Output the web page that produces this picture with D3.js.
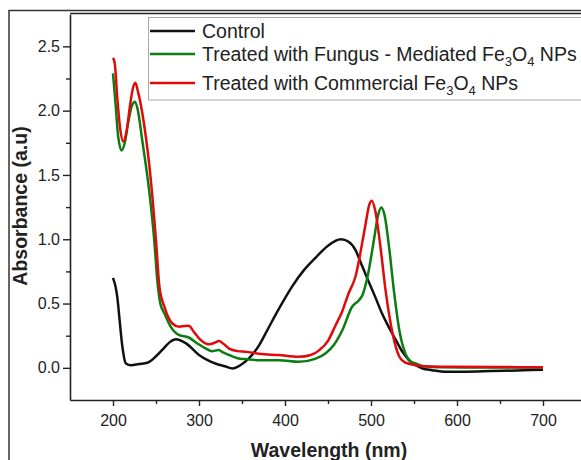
<!DOCTYPE html>
<html><head><meta charset="utf-8">
<script src="https://cdn.jsdelivr.net/npm/d3@7"></script>
<style>
html,body{margin:0;padding:0;background:#fff;overflow:hidden;}
text{font-family:"Liberation Sans",Arial,sans-serif;fill:#222;}
</style></head>
<body>
<svg id="chart" width="581" height="460"></svg>
<script>
// ---- data ----
const controlWl  = [200,203,205,208,211,215,221,230,240,250,260,266,273,285,300,310,319,330,339,348,358,370,380,393,408,422,436,450,465,474,482,488,496,505,513,522,529,537,544,552,560,571,587,610,640,670,700];
const controlAbs = [0.70,0.63,0.55,0.35,0.16,0.034,0.02,0.03,0.04,0.09,0.16,0.20,0.223,0.19,0.10,0.06,0.034,0.012,-0.005,0.02,0.073,0.177,0.30,0.46,0.63,0.76,0.86,0.95,1.0,0.98,0.915,0.82,0.69,0.55,0.42,0.30,0.215,0.12,0.06,0.02,-0.005,-0.018,-0.03,-0.03,-0.025,-0.02,-0.015];

const fungusWl  = [200,203,206,210,214,218,222,225.6,229,234,242,248,251.5,255,260,267,277,288,298,308,315,323,328,335,345,354,370,393,416,435,447,457,466.5,478,486,490,496,504,508,512,516,521,527,533,540,546,552,560,580,620,700];
const fungusAbs = [2.29,2.05,1.80,1.69,1.76,1.92,2.04,2.07,2.0,1.77,1.38,0.99,0.68,0.50,0.42,0.32,0.254,0.236,0.19,0.15,0.13,0.138,0.12,0.10,0.075,0.068,0.06,0.06,0.047,0.07,0.112,0.18,0.29,0.475,0.526,0.565,0.71,1.02,1.18,1.247,1.18,0.94,0.58,0.29,0.11,0.05,0.034,0.015,0.005,0.003,0.003];

const commercialWl  = [200,202,205,208,212,216,220,223,226,229,236,244,250,254,260,269,277,283,288,294,300,312,318,323,328,335,345,354,370,393,416,430,440,450,458,466,474,482,490,494,498,501,505,511,517,525,533,540,552,570,591,650,700];
const commercialAbs = [2.41,2.37,2.10,1.88,1.76,1.85,2.05,2.17,2.216,2.15,1.90,1.46,0.99,0.63,0.47,0.345,0.32,0.325,0.327,0.28,0.23,0.184,0.195,0.208,0.19,0.15,0.13,0.125,0.11,0.099,0.086,0.10,0.138,0.21,0.32,0.43,0.58,0.71,0.98,1.13,1.27,1.30,1.22,0.94,0.60,0.27,0.086,0.04,0.021,0.01,0.008,0.006,0.005];

const xMajorTicks = [200,300,400,500,600,700];
const xMinorTicks = [250,350,450,550,650,750];
const yMajorTicks = [0.0,0.5,1.0,1.5,2.0,2.5];
const yMinorTicks = [0.25,0.75,1.25,1.75,2.25];

const seriesNames  = ["Control","Treated with Fungus - Mediated Fe3O4 NPs","Treated with Commercial Fe3O4 NPs"];
const seriesColors = ["#111111","#0b7d12","#e00a0a"];

// ---- drawing ----
const svg = d3.select("#chart");
svg.append("rect").attr("width",581).attr("height",460).attr("fill","#fff");

const x = d3.scaleLinear().domain([150,750]).range([70,586]);
const y = d3.scaleLinear().domain([-0.25,2.75]).range([400,14.2]);

// outer frame
svg.append("path").attr("d","M9,460 V10.5 H590").attr("fill","none").attr("stroke","#333").attr("stroke-width",1.5);

// top axis line
svg.append("line").attr("x1",70).attr("x2",590).attr("y1",13.5).attr("y2",13.5).attr("stroke","#222").attr("stroke-width",1.6);

const fmt = d3.format(".1f");
const gx = svg.append("g").attr("transform","translate(0,400)")
  .call(d3.axisBottom(x).tickValues(xMajorTicks).tickSize(6).tickPadding(9).tickSizeOuter(0));
const gxm = svg.append("g").attr("transform","translate(0,400)")
  .call(d3.axisBottom(x).tickValues(xMinorTicks).tickSize(4).tickFormat(""));
gxm.select(".domain").remove();
const gy = svg.append("g").attr("transform","translate(70,0)")
  .call(d3.axisLeft(y).tickValues(yMajorTicks).tickFormat(fmt).tickSize(7).tickPadding(3).tickSizeOuter(0));
const gym = svg.append("g").attr("transform","translate(70,0)")
  .call(d3.axisLeft(y).tickValues(yMinorTicks).tickSize(4).tickFormat(""));
gym.select(".domain").remove();

svg.selectAll(".domain").attr("stroke","#222").attr("stroke-width",1.6);
svg.selectAll(".tick line").attr("stroke","#222").attr("stroke-width",1.4);
svg.selectAll(".tick text").attr("font-size",16).attr("font-family","'Liberation Sans',Arial,sans-serif").attr("fill","#222");

// axis titles
svg.append("text").attr("x",329).attr("y",457).attr("text-anchor","middle")
  .attr("font-size",19.5).attr("font-weight","bold").attr("fill","#111").text("Wavelength (nm)");
svg.append("text").attr("transform","translate(27,206) rotate(-90)").attr("text-anchor","middle")
  .attr("font-size",19.5).attr("font-weight","bold").attr("fill","#111").text("Absorbance (a.u)");

// curves
const line = d3.line().x(d=>x(d[0])).y(d=>y(d[1])).curve(d3.curveMonotoneX);
const allSeries = [
  d3.zip(controlWl, controlAbs),
  d3.zip(fungusWl, fungusAbs),
  d3.zip(commercialWl, commercialAbs)
];
allSeries.forEach((s,i)=>{
  svg.append("path").datum(s).attr("d",line).attr("fill","none")
    .attr("stroke",seriesColors[i]).attr("stroke-width",2.5).attr("stroke-linejoin","round");
});

// legend
const lg = svg.append("g");
lg.append("rect").attr("x",148.5).attr("y",17.5).attr("width",500).attr("height",82.5)
  .attr("fill","#fff").attr("stroke","#aaa").attr("stroke-width",1);
const rowLineY = [31,54,83];
const rowBase  = [37.5,60.5,89.5];
seriesNames.forEach((name,i)=>{
  lg.append("line").attr("x1",150).attr("x2",195).attr("y1",rowLineY[i]).attr("y2",rowLineY[i])
    .attr("stroke",seriesColors[i]).attr("stroke-width",2.5);
  const t = lg.append("text").attr("x",202).attr("y",rowBase[i]).attr("font-size",19.5).attr("fill","#111");
  const m = name.match(/^(.*)Fe3O4(.*)$/);
  if(m){
    t.append("tspan").text(m[1]+"Fe");
    t.append("tspan").attr("font-size",13).attr("dy",5).text("3");
    t.append("tspan").attr("dy",-5).text("O");
    t.append("tspan").attr("font-size",13).attr("dy",5).text("4");
    t.append("tspan").attr("dy",-5).text(m[2]);
  } else {
    t.text(name);
  }
});
</script>
</body></html>
